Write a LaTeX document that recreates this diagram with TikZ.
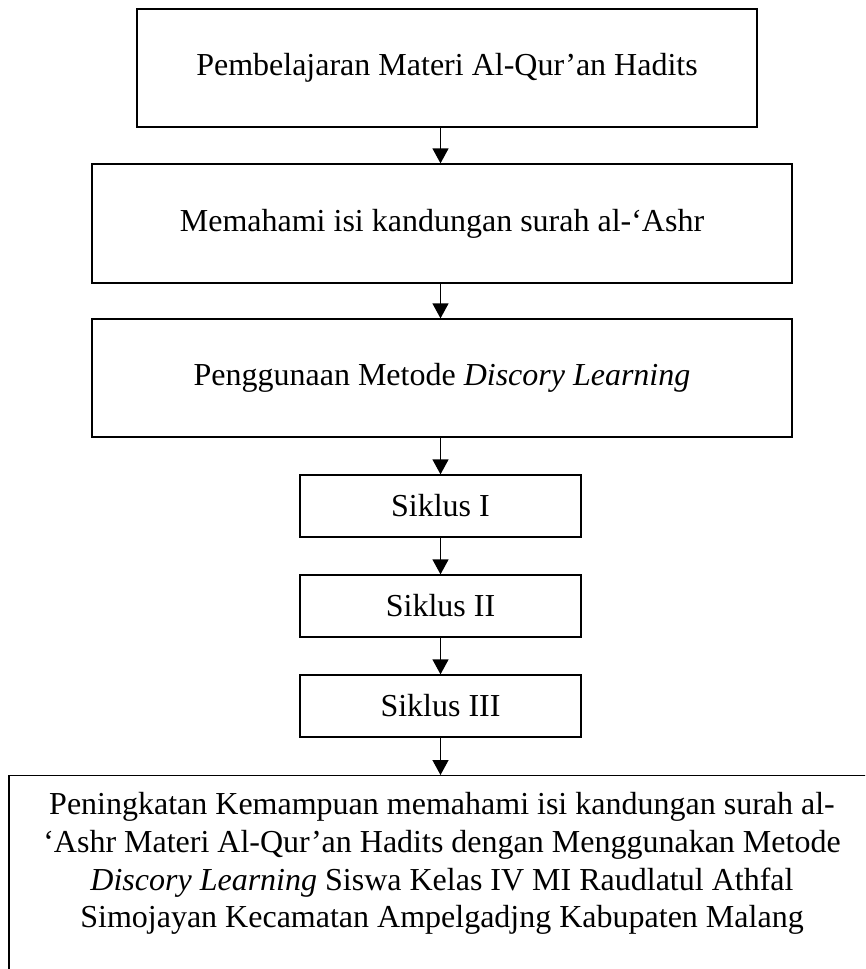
\documentclass[tikz,border=0pt]{standalone}
\usepackage{fontspec}
\setmainfont{Liberation Serif}
\usetikzlibrary{arrows.meta}
\begin{document}
\begin{tikzpicture}[x=1pt,y=-1pt,
  box/.style={draw, line width=1.3pt, inner sep=0pt, align=center,
    font=\fontsize{32}{37.7}\selectfont},
  arr/.style={line width=1.3pt, -{Triangle[length=15pt,width=16pt]}}]
\useasboundingbox (0,0) rectangle (865,969);
\clip (0,0) rectangle (865,969);
\node[box, minimum width=620pt, minimum height=118pt] (b1) at (447,68) {Pembelajaran Materi Al-Qur’an Hadits};
\node[box, minimum width=700pt, minimum height=119pt] (b2) at (442,223.5) {Memahami isi kandungan surah al-‘Ashr};
\node[box, minimum width=700pt, minimum height=118pt] (b3) at (442,378) {Penggunaan Metode \textit{Discory Learning}};
\node[box, minimum width=281pt, minimum height=62pt] (s1) at (440.5,506) {Siklus I};
\node[box, minimum width=281pt, minimum height=62pt] (s2) at (440.5,606) {Siklus II};
\node[box, minimum width=281pt, minimum height=62pt] (s3) at (440.5,706) {Siklus III};
\node[box, anchor=north, align=left] (fin) at (442,775) {\parbox[t][230pt][t]{866pt}{\vspace*{17pt}\centering
Peningkatan Kemampuan memahami isi kandungan surah al-\\
‘Ashr Materi Al-Qur’an Hadits dengan Menggunakan Metode\\
\textit{Discory Learning} Siswa Kelas IV MI Raudlatul Athfal\\
Simojayan Kecamatan Ampelgadjng Kabupaten Malang}};
\draw[arr] (b1.south -| s1.center) -- (b2.north -| s1.center);
\draw[arr] (b2.south -| s1.center) -- (b3.north -| s1.center);
\draw[arr] (b3.south -| s1.center) -- (s1.north);
\draw[arr] (s1.south) -- (s2.north);
\draw[arr] (s2.south) -- (s3.north);
\draw[arr] (s3.south) -- (fin.north -| s3.south);
\end{tikzpicture}
\end{document}
